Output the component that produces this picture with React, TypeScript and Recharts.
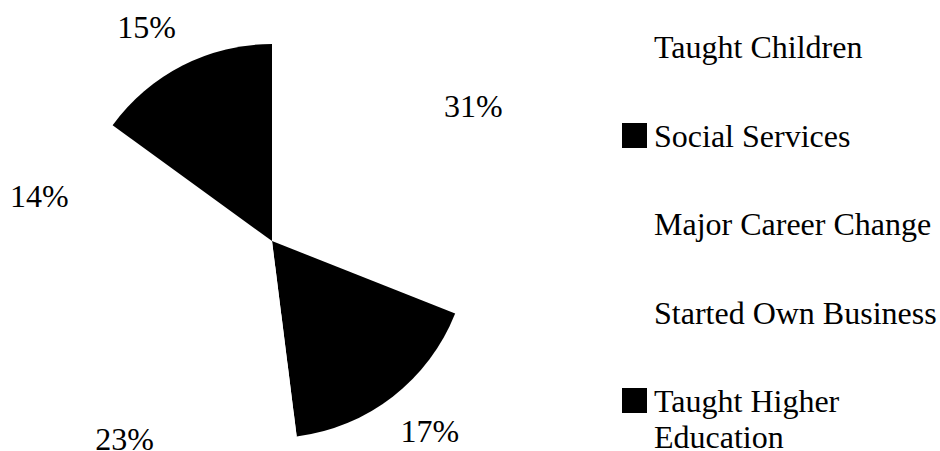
import React from "react";
import { PieChart, Pie, Cell, Legend } from "recharts";

const categories = [
  "Taught Children",
  "Social Services",
  "Major Career Change",
  "Started Own Business",
  "Taught Higher Education",
];
const shares = [31, 17, 23, 14, 15];
const fills = ["#ffffff", "#000000", "#ffffff", "#ffffff", "#000000"];

const data = categories.map((name, i) => ({ name, value: shares[i] }));

const FONT = '"Liberation Serif", "Times New Roman", serif';
const RAD = Math.PI / 180;

// labels sit outside the pie, anchored on the side facing away from it
const renderLabel = (p: any) => {
  const ux = Math.cos(-p.midAngle * RAD);
  const uy = Math.sin(-p.midAngle * RAD);
  const right = ux >= 0;
  const x = p.cx + (p.outerRadius + 6) * ux + (right ? 4 : -4);
  const y = p.cy + (p.outerRadius + 43) * uy;
  return (
    <text
      x={x}
      y={y}
      textAnchor={right ? "start" : "end"}
      dominantBaseline="central"
      fontFamily={FONT}
      fontSize={32}
      fill="#000"
    >
      {p.value}%
    </text>
  );
};

const renderLegend = () => (
  <div style={{ fontFamily: FONT, fontSize: 32, lineHeight: "36px", color: "#000" }}>
    {categories.map((name, i) => (
      <div key={name} style={{ display: "flex", alignItems: "flex-start", marginBottom: 52.5 }}>
        <div
          style={{
            width: 25,
            height: 25,
            marginTop: 5,
            marginRight: 7,
            background: fills[i],
            flex: "0 0 auto",
          }}
        />
        <div style={{ width: 286 }}>{name}</div>
      </div>
    ))}
  </div>
);

export default function App() {
  return (
    <div style={{ position: "absolute", left: 0, top: 0, width: 940, height: 451, overflow: "hidden", background: "#fff" }}>
      <PieChart width={940} height={451} margin={{ top: 0, right: 0, bottom: 0, left: 0 }}>
        <Pie
          data={data}
          dataKey="value"
          nameKey="name"
          cx={272}
          cy={241}
          outerRadius={197}
          startAngle={90}
          endAngle={-270}
          stroke="none"
          label={renderLabel}
          labelLine={false}
          isAnimationActive={false}
        >
          {data.map((d, i) => (
            <Cell key={d.name} fill={fills[i]} />
          ))}
        </Pie>
        <Legend
          content={renderLegend}
          wrapperStyle={{ left: 622, top: 29, width: 318, bottom: "auto" }}
        />
      </PieChart>
    </div>
  );
}
